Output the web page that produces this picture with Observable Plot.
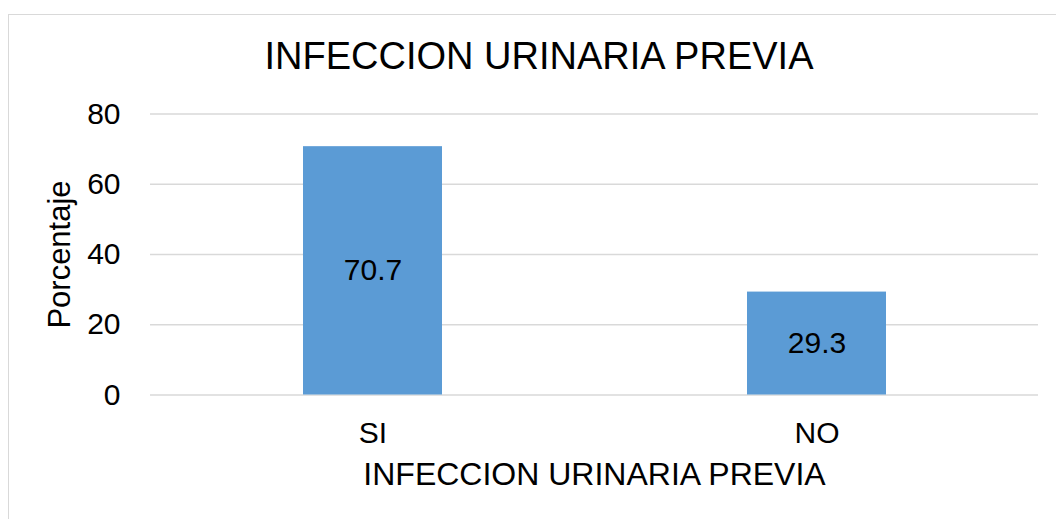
<!DOCTYPE html>
<html><head><meta charset="utf-8">
<script src="https://cdn.jsdelivr.net/npm/d3@7"></script>
<script src="https://cdn.jsdelivr.net/npm/@observablehq/plot@0.6"></script>
<style>
body{margin:0;background:#fff;}
#wrap{position:relative;width:1056px;height:519px;overflow:hidden;background:#fff;}
#frame{position:absolute;left:8px;top:14px;width:1100px;height:600px;border:1.5px solid #d9d9d9;pointer-events:none;z-index:2;}
#chart{position:absolute;left:0;top:0;}
</style>
</head><body>
<div id="wrap"><div id="chart"></div><div id="frame"></div></div>
<script>
const categories = ["SI", "NO"];
const values = [70.7, 29.3];
const yTicks = [0, 20, 40, 60, 80];
const chartTitle = "INFECCION URINARIA PREVIA";
const xTitle = "INFECCION URINARIA PREVIA";
const yTitle = "Porcentaje";

const data = categories.map((c, i) => ({cat: c, value: values[i]}));
const font = "'Liberation Sans', Arial, sans-serif";

const chart = Plot.plot({
  width: 1056,
  height: 519,
  marginLeft: 150,
  marginRight: 18,
  marginTop: 113.5,
  marginBottom: 124.5,
  style: {fontFamily: font, color: "#000", background: "transparent", overflow: "visible"},
  x: {domain: categories, paddingInner: 0.687, paddingOuter: 0.3435, label: null},
  y: {domain: [0, 80], label: null},
  marks: [
    Plot.gridY(yTicks, {stroke: "#d9d9d9", strokeOpacity: 1, strokeWidth: 1.5}),
    Plot.barY(data, {x: "cat", y: "value", fill: "#5b9bd5"}),
    Plot.text(data, {x: "cat", y: d => d.value / 2, text: d => d.value.toFixed(1), fontSize: 30, fill: "#000"}),
    Plot.axisY(yTicks, {tickSize: 0, tickPadding: 30, fontSize: 30, label: null, tickFormat: d => String(d)}),
    Plot.axisX({tickSize: 0, tickPadding: 27, fontSize: 30, label: null}),
    Plot.text([chartTitle], {frameAnchor: "top", dx: -55.5, dy: -72, fontSize: 38, fill: "#000"}),
    Plot.text([xTitle], {frameAnchor: "bottom", dx: 0, dy: 90, fontSize: 32, fill: "#000"}),
    Plot.text([yTitle], {frameAnchor: "left", dx: -90, dy: 0, rotate: -90, textAnchor: "middle", fontSize: 31, fill: "#000"})
  ]
});
document.getElementById("chart").appendChild(chart);
</script>
</body></html>
